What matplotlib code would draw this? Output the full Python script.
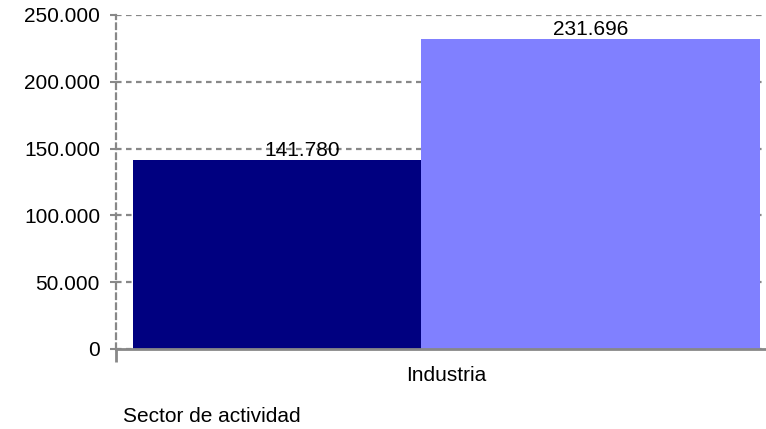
import matplotlib.pyplot as plt
import numpy as np

categorias = ["Industria"]
serie_1 = [141780]
serie_2 = [231696]
etiquetas_1 = ["141.780"]
etiquetas_2 = ["231.696"]
yticks = [0, 50000, 100000, 150000, 200000, 250000]
ytick_labels = ["0", "50.000", "100.000", "150.000", "200.000", "250.000"]

plt.rcParams['font.family'] = ['Liberation Sans', 'DejaVu Sans']
fs = 15

fig = plt.figure(figsize=(7.66, 4.29), dpi=100)
ax = fig.add_axes([116 / 766, 80 / 429, 650 / 766, 334 / 429])

x = np.arange(len(categorias))
w1 = 0.459
w2 = 0.541
gris = "#888888"

b1 = ax.bar(x - 0.5, serie_1, width=w1, align="edge", color="#000080", zorder=3)
b2 = ax.bar(x - 0.5 + w1, serie_2, width=w2, align="edge", color="#8080ff", zorder=3)

for rect, lab in zip(b1, etiquetas_1):
    ax.annotate(lab, (rect.get_x() + rect.get_width() / 2, rect.get_height()),
                xytext=(18, 0), textcoords="offset points", ha="center", va="bottom",
                fontsize=fs, zorder=4)
for rect, lab in zip(b2, etiquetas_2):
    ax.annotate(lab, (rect.get_x() + rect.get_width() / 2, rect.get_height()),
                xytext=(0, 0), textcoords="offset points", ha="center", va="bottom",
                fontsize=fs, zorder=4)

ax.set_xlim(-0.527, 0.5096)
ax.set_ylim(0, 250000)
ax.set_yticks(yticks)
ax.set_yticklabels(ytick_labels, fontsize=fs)
ax.set_xticks(x)
ax.set_xticklabels(categorias, fontsize=fs)
ax.tick_params(axis="x", length=0, pad=12)
ax.tick_params(axis="y", length=4.5, width=1.5, color=gris, pad=7)
ax.set_xticks([-0.527], minor=True)
ax.tick_params(axis="x", which="minor", length=9.5, width=2, color=gris)

ax.grid(axis="y", color=gris, linestyle=(0, (2.5, 2)), linewidth=1.6, zorder=1)
ax.spines["top"].set_visible(False)
ax.spines["right"].set_visible(False)
ax.spines["left"].set_color(gris)
ax.spines["left"].set_linestyle((0, (2.5, 2)))
ax.spines["left"].set_linewidth(1.6)
ax.spines["bottom"].set_color(gris)
ax.spines["bottom"].set_linewidth(2)
ax.spines["bottom"].set_zorder(5)

fig.text(123 / 766, 1 - 417 / 429, "Sector de actividad", fontsize=fs, va="center", ha="left")

fig.savefig("out.png", dpi=100)
